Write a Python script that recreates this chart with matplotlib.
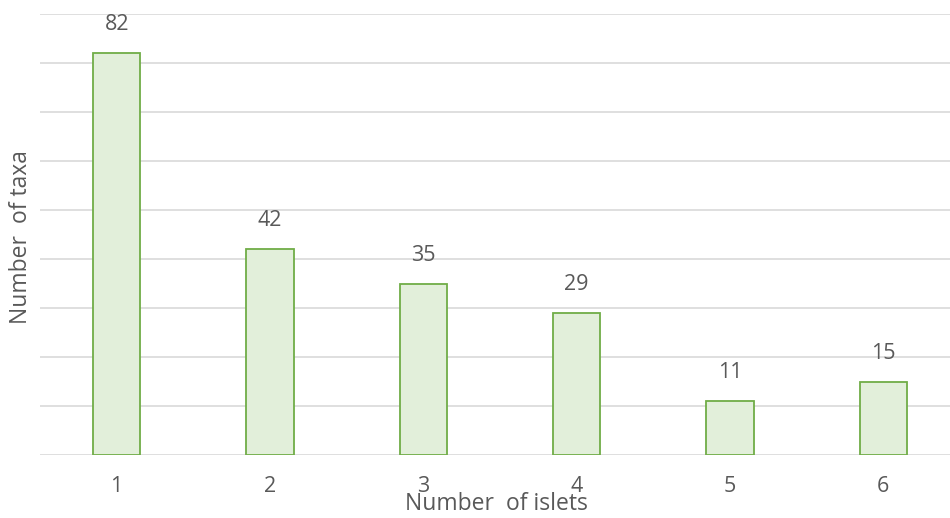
import matplotlib.pyplot as plt

# islets occupied vs. number of taxa
islets = [1, 2, 3, 4, 5, 6]
taxa = [82, 42, 35, 29, 11, 15]

COR_BARRA = "#E2EFDA"
COR_BORDA = "#70AD47"
COR_TEXTO = "#595959"
COR_GRADE = "#D9D9D9"

plt.rcParams['font.family'] = ['Open Sans', 'DejaVu Sans']

fig = plt.figure(figsize=(9.5, 5.18), dpi=100)
ax = fig.add_axes([40 / 950, 63 / 518, 920 / 950, 441 / 518])

ax.bar(islets, taxa, width=0.31, color=COR_BARRA, edgecolor=COR_BORDA, linewidth=1.3, zorder=3)

for x, v in zip(islets, taxa):
    ax.annotate(str(v), (x, v), xytext=(0, 20.5), textcoords='offset points',
                ha='center', va='center', fontsize=15.5, color=COR_TEXTO)

ax.set_xlim(0.5, 6.5)
ax.set_ylim(0, 90)
ax.set_yticks(range(0, 91, 10))
ax.set_yticklabels([])
ax.set_xticks(islets)
ax.set_xticklabels([str(i) for i in islets])
ax.tick_params(axis='x', length=0, pad=15, labelsize=15.5, labelcolor=COR_TEXTO)
ax.tick_params(axis='y', length=0)
ax.grid(axis='y', color=COR_GRADE, linewidth=1.2, zorder=0)
for s in ax.spines.values():
    s.set_visible(False)

fig.text(496 / 950, 1 - 510 / 518, "Number  of islets", ha='center', va='baseline',
         fontsize=16.5, color=COR_TEXTO)
fig.text(21 / 950, 1 - 237 / 518, "Number  of taxa", rotation=90, ha='center', va='center',
         fontsize=16.5, color=COR_TEXTO)

fig.savefig("out.png", dpi=100)
